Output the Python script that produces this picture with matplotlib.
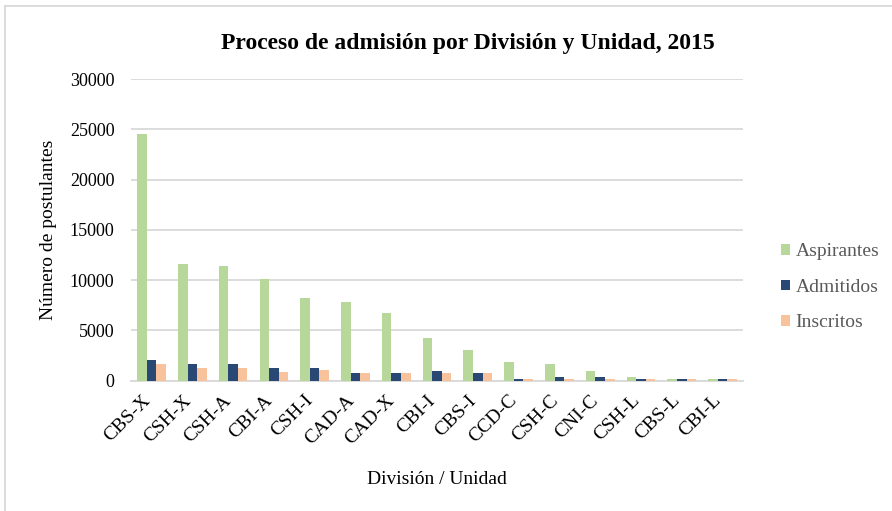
import numpy as np
import matplotlib
matplotlib.use("Agg")
import matplotlib.pyplot as plt
import matplotlib.transforms as mtransforms
from matplotlib.lines import Line2D

plt.rcParams['font.family'] = ['Liberation Serif', 'DejaVu Serif']

# Datos
unidades = ['CBS-X', 'CSH-X', 'CSH-A', 'CBI-A', 'CSH-I', 'CAD-A', 'CAD-X', 'CBI-I',
            'CBS-I', 'CCD-C', 'CSH-C', 'CNI-C', 'CSH-L', 'CBS-L', 'CBI-L']
aspirantes = [24500, 11650, 11450, 10150, 8250, 7850, 6700, 4200, 3050, 1900, 1700, 950, 370, 170, 170]
admitidos = [2050, 1700, 1700, 1300, 1300, 750, 750, 950, 750, 180, 380, 380, 180, 180, 180]
inscritos = [1700, 1300, 1300, 900, 1100, 750, 750, 750, 750, 180, 180, 180, 180, 180, 180]

verde = '#B7D79B'
azul = '#2A4874'
naranja = '#F8C29C'

fig = plt.figure(figsize=(8.92, 5.11), dpi=100)
ax = fig.add_axes([0.147, 0.255, 0.686, 0.59])

x = np.arange(len(unidades))
w = 0.235
ax.bar(x - w, aspirantes, w, color=verde, label='Aspirantes', zorder=3)
ax.bar(x, admitidos, w, color=azul, label='Admitidos', zorder=3)
ax.bar(x + w, inscritos, w, color=naranja, label='Inscritos', zorder=3)

ax.set_xlim(-0.5, len(unidades) - 0.5)
ax.set_ylim(0, 30000)
ax.set_yticks(np.arange(0, 30001, 5000))
ax.yaxis.grid(True, color='#D9D9D9', linewidth=1.3, zorder=0)
ax.tick_params(axis='y', length=0, labelsize=13, pad=12)
for s in ['top', 'right', 'left']:
    ax.spines[s].set_visible(False)
ax.spines['bottom'].set_color('#D9D9D9')
ax.spines['bottom'].set_linewidth(1.3)

ax.set_xticks(x)
ax.set_xticklabels(unidades, rotation=45, ha='right', rotation_mode='anchor')
ax.tick_params(axis='x', length=0, labelsize=14, pad=8)
# desplazar etiquetas a la izquierda como en el original
desplaza = mtransforms.ScaledTranslation(-10 / 100, 0, fig.dpi_scale_trans)
for lab in ax.get_xticklabels():
    lab.set_transform(lab.get_transform() + desplaza)

ax.set_ylabel('Número de postulantes', fontsize=14)
ax.yaxis.set_label_coords(-0.121, 0.5)
ax.set_xlabel('División / Unidad', fontsize=14, va='top')
ax.xaxis.set_label_coords(0.5, -0.30)

fig.text(0.524, 0.914, 'Proceso de admisión por División y Unidad, 2015', fontsize=17,
         fontweight='bold', ha='center', va='center')

leg = ax.legend(loc='center left', bbox_to_anchor=(1.062, 0.31), frameon=False,
                fontsize=14, handlelength=0.45, handleheight=0.45, handletextpad=0.3,
                labelspacing=0.95, borderpad=0, borderaxespad=0)
for t in leg.get_texts():
    t.set_color('#595959')

# borde del area del grafico (solo arriba e izquierda)
fig.add_artist(Line2D([0.006, 0.006], [0, 0.989], transform=fig.transFigure,
                      color='#D9D9D9', linewidth=1.3))
fig.add_artist(Line2D([0.006, 1], [0.989, 0.989], transform=fig.transFigure,
                      color='#D9D9D9', linewidth=1.3))

fig.savefig('out.png', dpi=100)
